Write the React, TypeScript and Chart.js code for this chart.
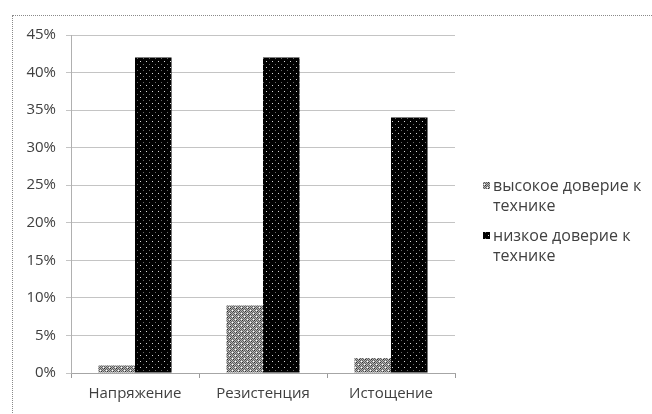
import React, { useEffect, useRef } from "react";
import { Chart, registerables } from "chart.js";

Chart.register(...registerables);

const categories = ["Напряжение", "Резистенция", "Истощение"];
const highTrust = [1, 9, 2];
const lowTrust = [42, 42, 34];
const seriesNames = [["высокое доверие к", "технике"], ["низкое доверие к", "технике"]];
const yMax = 45;
const yStep = 5;

const FONT = "'Open Sans', Lato, sans-serif";

function makeGreyPattern(): CanvasPattern | string {
  const c = document.createElement("canvas");
  c.width = 6;
  c.height = 6;
  const ctx = c.getContext("2d");
  if (!ctx) return "#888";
  for (let y = 0; y < 6; y++) {
    for (let x = 0; x < 6; x++) {
      ctx.fillStyle = (x + y) % 2 === 0 ? "#5c5c5c" : "#b4b4b4";
      ctx.fillRect(x, y, 1, 1);
    }
  }
  ctx.fillStyle = "#ffffff";
  ctx.fillRect(1, 1, 1, 1);
  ctx.fillRect(4, 4, 1, 1);
  ctx.fillStyle = "#2a2a2a";
  ctx.fillRect(2, 2, 1, 1);
  ctx.fillRect(5, 5, 1, 1);
  return ctx.createPattern(c, "repeat") || "#888";
}

function makeBlackPattern(): CanvasPattern | string {
  const c = document.createElement("canvas");
  c.width = 6;
  c.height = 6;
  const ctx = c.getContext("2d");
  if (!ctx) return "#000";
  ctx.fillStyle = "#000000";
  ctx.fillRect(0, 0, 6, 6);
  ctx.fillStyle = "#d8d8d8";
  ctx.fillRect(2, 1, 1, 1);
  ctx.fillStyle = "#6a6a6a";
  ctx.fillRect(5, 4, 1, 1);
  return ctx.createPattern(c, "repeat") || "#000";
}

export default function App() {
  const ref = useRef<HTMLCanvasElement | null>(null);

  useEffect(() => {
    if (!ref.current) return;
    const grey = makeGreyPattern();
    const black = makeBlackPattern();
    const fills = [grey, black];

    const legendPlugin = {
      id: "sideLegend",
      afterDraw(chart: any) {
        const ctx = chart.ctx as CanvasRenderingContext2D;
        ctx.save();
        ctx.font = "16px " + FONT;
        ctx.textBaseline = "middle";
        ctx.textAlign = "left";
        const x0 = chart.chartArea.right + 28;
        const starts = [186, 236];
        seriesNames.forEach((lines, i) => {
          const y = starts[i];
          ctx.fillStyle = fills[i] as any;
          ctx.fillRect(x0, y - 4, 7, 7);
          ctx.fillStyle = "#404040";
          lines.forEach((t, j) => {
            ctx.fillText(t, x0 + 10, y + j * 20);
          });
        });
        ctx.restore();
      },
    };

    const chart = new Chart(ref.current, {
      type: "bar",
      data: {
        labels: categories,
        datasets: [
          {
            label: seriesNames[0].join(" "),
            data: highTrust,
            backgroundColor: grey as any,
            borderWidth: 0,
            categoryPercentage: 0.571,
            barPercentage: 1,
          },
          {
            label: seriesNames[1].join(" "),
            data: lowTrust,
            backgroundColor: black as any,
            borderWidth: 0,
            categoryPercentage: 0.571,
            barPercentage: 1,
          },
        ],
      },
      options: {
        animation: false,
        responsive: false,
        maintainAspectRatio: false,
        layout: { padding: { left: 0, right: 197, top: 35, bottom: 0 } },
        plugins: {
          legend: { display: false },
          tooltip: { enabled: false },
        },
        scales: {
          x: {
            offset: true,
            grid: {
              drawOnChartArea: false,
              drawTicks: true,
              tickLength: 5,
              color: "#9a9a9a",
              offset: true,
            },
            border: { display: true, color: "#a6a6a6", width: 1 },
            ticks: {
              color: "#404040",
              font: { family: FONT, size: 15 },
              padding: 7,
            },
            afterFit(scale: any) {
              scale.height = 41;
            },
          },
          y: {
            min: 0,
            max: yMax,
            grid: {
              color: "#c4c4c4",
              drawTicks: true,
              tickLength: 5,
            },
            border: { display: true, color: "#b0b0b0", width: 1 },
            ticks: {
              stepSize: yStep,
              color: "#404040",
              font: { family: FONT, size: 15 },
              padding: 10,
              callback: (v: any) => v + "%",
            },
            afterFit(scale: any) {
              scale.width = 71;
            },
          },
        },
      },
      plugins: [legendPlugin],
    });

    return () => chart.destroy();
  }, []);

  return (
    <div
      style={{
        position: "absolute",
        left: 0,
        top: 0,
        width: 652,
        height: 414,
        overflow: "hidden",
        background: "#ffffff",
      }}
    >
      <div
        style={{
          position: "absolute",
          left: 12,
          top: 15,
          width: 800,
          height: 600,
          borderTop: "1px dotted #8a8a8a",
          borderLeft: "1px dotted #8a8a8a",
          boxSizing: "border-box",
        }}
      />
      <canvas
        ref={ref}
        width={652}
        height={414}
        style={{ position: "absolute", left: 0, top: 0, width: 652, height: 414 }}
      />
    </div>
  );
}
